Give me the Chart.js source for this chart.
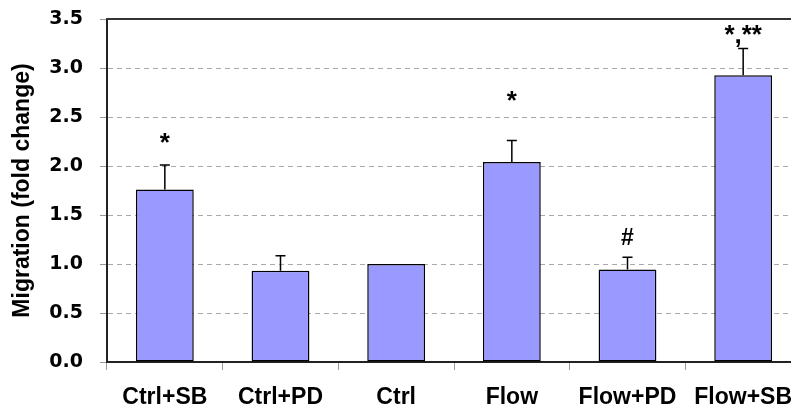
<!DOCTYPE html>
<html>
<head>
<meta charset="utf-8">
<script src="https://cdn.jsdelivr.net/npm/chart.js@4.4.1/dist/chart.umd.min.js"></script>
<style>
  html, body { margin: 0; padding: 0; background: #fff; overflow: hidden; }
  #wrap { width: 820px; height: 408px; }
</style>
</head>
<body>
<div id="wrap"><canvas id="myChart" width="820" height="408"></canvas></div>
<script>
// values
var categories = ['Ctrl+SB', 'Ctrl+PD', 'Ctrl', 'Flow', 'Flow+PD', 'Flow+SB'];
var migration = [1.76, 0.93, 1.0, 2.04, 0.945, 2.925];
var errors = [0.25, 0.155, 0, 0.22, 0.125, 0.275];
var marks = ['*', '', '', '*', '#', '*,**'];
var markLevels = [2.15, 0, 0, 2.58, 1.19, 3.26];
var yTicks = [0, 0.5, 1.0, 1.5, 2.0, 2.5, 3.0, 3.5];

var labelFont = '"Liberation Sans", Arial, sans-serif';

// error bars, significance marks and the top frame line
var extras = {
    id: 'extras',
    afterDatasetsDraw: function(chart) {
        var ctx = chart.ctx;
        var y = chart.scales.y;
        var area = chart.chartArea;
        var bars = chart.getDatasetMeta(0).data;
        ctx.save();
        ctx.strokeStyle = '#000';
        ctx.lineWidth = 1.5;
        bars.forEach(function(bar, i) {
            if (!errors[i]) return;
            var top = y.getPixelForValue(migration[i] + errors[i]);
            ctx.beginPath();
            ctx.moveTo(bar.x, bar.y);
            ctx.lineTo(bar.x, top);
            ctx.moveTo(bar.x - 5, top);
            ctx.lineTo(bar.x + 5, top);
            ctx.stroke();
        });
        ctx.fillStyle = '#000';
        ctx.textAlign = 'center';
        ctx.textBaseline = 'alphabetic';
        bars.forEach(function(bar, i) {
            if (!marks[i]) return;
            ctx.font = 'bold ' + (marks[i] === '#' ? 23 : 26) + 'px ' + labelFont;
            ctx.fillText(marks[i], bar.x, y.getPixelForValue(markLevels[i]));
        });
        ctx.strokeStyle = '#333';
        ctx.lineWidth = 2;
        ctx.beginPath();
        ctx.moveTo(area.left - 1, area.top);
        ctx.lineTo(area.right, area.top);
        ctx.stroke();
        ctx.restore();
    }
};

var ctx = document.getElementById('myChart').getContext('2d');
var myChart = new Chart(ctx, {
    type: 'bar',
    data: {
        labels: categories,
        datasets: [{
            data: migration,
            backgroundColor: '#9999ff',
            borderColor: '#000',
            borderWidth: 1.5,
            borderSkipped: false,
            categoryPercentage: 1.0,
            barPercentage: 0.5
        }]
    },
    options: {
        responsive: false,
        animation: false,
        layout: {
            padding: { top: 19, right: 19, left: 0, bottom: 0 }
        },
        plugins: {
            legend: { display: false },
            tooltip: { enabled: false }
        },
        scales: {
            x: {
                afterFit: function(scale) {
                    scale.height = 46;
                    scale.paddingLeft = 0;
                    scale.paddingRight = 0;
                },
                grid: {
                    drawOnChartArea: false,
                    drawTicks: true,
                    tickLength: 8,
                    tickColor: '#999'
                },
                border: { color: '#222', width: 2 },
                ticks: {
                    color: '#000',
                    padding: 14,
                    maxRotation: 0,
                    font: { family: labelFont, size: 23, weight: 'bold' }
                }
            },
            y: {
                min: 0,
                max: 3.5,
                afterFit: function(scale) {
                    scale.width = 107;
                    scale.paddingTop = 0;
                    scale.paddingBottom = 0;
                },
                afterBuildTicks: function(scale) {
                    scale.ticks = yTicks.map(function(v) { return { value: v }; });
                },
                grid: {
                    color: '#aaa',
                    lineWidth: 1,
                    tickLength: 7,
                    tickColor: '#999',
                    tickBorderDash: []
                },
                border: { color: '#222', width: 2, dash: [5, 4] },
                ticks: {
                    color: '#000',
                    padding: 17,
                    callback: function(v) { return Number(v).toFixed(1); },
                    font: { family: '"DejaVu Sans", sans-serif', size: 19, weight: 'bold' }
                },
                title: {
                    display: true,
                    text: 'Migration (fold change)',
                    color: '#000',
                    padding: { top: 9, bottom: 0 },
                    font: { family: labelFont, size: 23, weight: 'bold' }
                }
            }
        }
    },
    plugins: [extras]
});
</script>
</body>
</html>
